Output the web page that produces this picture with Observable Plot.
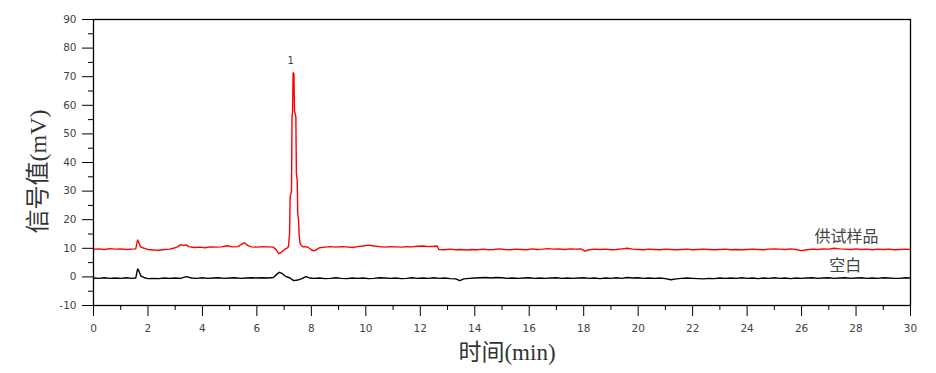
<!DOCTYPE html>
<html><head><meta charset="utf-8">
<script src="https://cdn.jsdelivr.net/npm/d3@7"></script>
<script src="https://cdn.jsdelivr.net/npm/@observablehq/plot@0.6"></script>
<style>html,body{margin:0;padding:0;background:#fff}</style>
</head><body><div id="chart"></div>
<script>
// 供试样品 (sample) trace
const sampleTime = [0,0.2,0.4,0.6,0.8,1.0,1.2,1.4,1.55,1.62,1.66,1.72,1.8,1.9,2.0,2.2,2.4,2.6,2.8,3.0,3.1,3.2,3.3,3.4,3.5,3.7,3.9,4.1,4.3,4.5,4.7,4.9,5.1,5.3,5.45,5.55,5.65,5.8,6.0,6.2,6.4,6.6,6.7,6.8,6.9,7.0,7.1,7.16,7.18,7.2,7.22,7.27,7.29,7.31,7.33,7.36,7.38,7.43,7.45,7.48,7.5,7.53,7.55,7.58,7.63,7.7,7.8,7.9,8.0,8.1,8.2,8.3,8.5,8.7,8.9,9.1,9.3,9.5,9.7,9.9,10.1,10.3,10.5,10.7,10.9,11.1,11.3,11.5,11.7,11.9,12.1,12.3,12.5,12.62,12.68,12.9,13.1,13.3,13.5,13.7,13.9,14.1,14.3,14.5,14.7,14.9,15.1,15.3,15.5,15.7,15.9,16.1,16.3,16.5,16.7,16.9,17.1,17.3,17.5,17.7,17.9,18.05,18.2,18.4,18.6,18.8,19.0,19.2,19.4,19.6,19.8,20.0,20.2,20.4,20.6,20.8,21.0,21.2,21.4,21.6,21.8,22.0,22.2,22.4,22.6,22.8,23.0,23.2,23.4,23.6,23.8,24.0,24.2,24.4,24.6,24.8,25.0,25.2,25.4,25.6,25.8,26.0,26.2,26.4,26.6,26.8,27.0,27.2,27.4,27.6,27.8,28.0,28.2,28.4,28.6,28.8,29.0,29.2,29.4,29.6,29.8,30.0];
const sampleSignal = [9.7,9.8,9.6,9.9,9.7,9.8,9.6,9.7,9.8,12.9,12.2,10.6,10.2,9.9,9.6,9.4,9.3,9.6,9.7,10.2,10.6,11.3,11.0,11.2,10.6,10.3,10.4,10.2,10.5,10.4,10.5,10.9,10.5,10.6,11.5,11.9,11.0,10.5,10.4,10.6,10.5,10.4,9.6,8.1,8.6,9.5,10.0,10.6,13,15,28,30,56,58,71.4,71,58,56,36,34,22,20,15,12,11.0,10.5,10.6,10.2,9.5,9.1,9.6,10.2,10.4,10.6,10.4,10.6,10.5,10.3,10.6,10.8,11.1,10.8,10.6,10.4,10.6,10.5,10.4,10.6,10.5,10.7,10.8,10.6,10.7,10.8,9.6,9.5,9.7,9.5,9.6,9.4,9.6,9.5,9.7,9.5,9.6,9.8,9.6,9.5,9.7,9.6,9.5,9.8,9.6,9.7,9.9,9.7,9.8,9.6,9.8,9.7,9.8,9.0,9.5,9.7,9.6,9.7,9.5,9.6,9.8,10.0,9.7,9.6,9.5,9.7,9.6,9.5,9.7,9.6,9.5,9.6,9.7,9.5,9.6,9.7,9.6,9.5,9.6,9.7,9.5,9.6,9.5,9.6,9.7,9.6,9.5,9.7,9.8,9.7,9.6,9.8,9.6,9.2,9.5,9.7,9.6,9.8,9.7,10.0,9.8,9.7,9.6,9.8,9.6,9.7,9.5,9.7,9.6,9.7,9.5,9.6,9.7,9.6];

// 空白 (blank) trace
const blankTime = [0,0.2,0.4,0.6,0.8,1.0,1.2,1.4,1.55,1.62,1.67,1.74,1.85,2.0,2.2,2.4,2.6,2.8,3.0,3.2,3.4,3.6,3.8,4.0,4.2,4.4,4.6,4.8,5.0,5.2,5.4,5.6,5.8,6.0,6.2,6.4,6.6,6.72,6.82,6.92,7.05,7.2,7.35,7.5,7.65,7.8,7.95,8.1,8.3,8.5,8.7,8.9,9.1,9.3,9.5,9.7,9.9,10.1,10.3,10.5,10.7,10.9,11.1,11.3,11.5,11.7,11.9,12.1,12.3,12.5,12.7,12.9,13.1,13.3,13.45,13.6,13.8,14.0,14.2,14.4,14.6,14.8,15.0,15.2,15.4,15.6,15.8,16.0,16.2,16.4,16.6,16.8,17.0,17.2,17.4,17.6,17.8,18.0,18.2,18.4,18.6,18.8,19.0,19.2,19.4,19.6,19.8,20.0,20.2,20.4,20.6,20.8,21.0,21.2,21.4,21.6,21.8,22.0,22.2,22.4,22.6,22.8,23.0,23.2,23.4,23.6,23.8,24.0,24.2,24.4,24.6,24.8,25.0,25.2,25.4,25.6,25.8,26.0,26.2,26.4,26.6,26.8,27.0,27.2,27.4,27.6,27.8,28.0,28.2,28.4,28.6,28.8,29.0,29.2,29.4,29.6,29.8,30.0];
const blankSignal = [-0.4,-0.5,-0.3,-0.5,-0.4,-0.5,-0.3,-0.5,-0.4,2.8,2.0,0.3,-0.2,-0.6,-0.5,-0.6,-0.4,-0.5,-0.4,-0.5,0.1,-0.4,-0.5,-0.3,-0.5,-0.4,-0.3,-0.5,-0.4,-0.3,-0.5,-0.4,-0.3,-0.4,-0.3,-0.4,-0.2,0.8,1.6,1.2,0.2,-0.3,-1.3,-1.1,-0.6,0.1,-0.4,-0.5,-0.4,-0.6,-0.5,-0.3,-0.5,-0.6,-0.4,-0.5,-0.4,-0.6,-0.5,-0.3,-0.4,-0.5,-0.4,-0.6,-0.5,-0.3,-0.5,-0.4,-0.5,-0.3,-0.5,-0.4,-0.6,-0.7,-1.3,-0.7,-0.5,-0.4,-0.3,-0.2,-0.4,-0.2,-0.3,-0.5,-0.4,-0.5,-0.4,-0.3,-0.5,-0.4,-0.5,-0.4,-0.3,-0.5,-0.4,-0.5,-0.4,-0.3,-0.5,-0.4,-0.6,-0.4,-0.5,-0.3,-0.5,-0.2,-0.4,-0.3,-0.5,-0.4,-0.5,-0.4,-0.6,-1.0,-0.7,-0.5,-0.4,-0.5,-0.6,-0.7,-0.5,-0.6,-0.4,-0.5,-0.4,-0.5,-0.3,-0.5,-0.4,-0.6,-0.4,-0.5,-0.3,-0.5,-0.4,-0.6,-0.4,-0.5,-0.4,-0.3,-0.5,-0.4,-0.3,-0.5,-0.4,-0.3,-0.5,-0.4,-0.3,-0.5,-0.4,-0.5,-0.3,-0.4,-0.5,-0.5,-0.3,-0.4];

// axis ticks
const xMajorTicks = [0,2,4,6,8,10,12,14,16,18,20,22,24,26,28,30];
const xMinorTicks = [1,3,5,7,9,11,13,15,17,19,21,23,25,27,29];
const yMajorTicks = [-10,0,10,20,30,40,50,60,70,80,90];
const yMinorTicks = [-5,5,15,25,35,45,55,65,75,85];

// labels
const xAxisLabel = "时间(min)";
const yAxisLabel = "信号值(mV)";
const seriesNames = ["供试样品", "空白"];
const seriesLabelTime = [27.65, 27.6];
const seriesLabelSignal = [14.1, 4.0];
const peakNames = ["1"];
const peakLabelTime = [7.24];
const peakLabelSignal = [75.7];

const tickFont = "'DejaVu Sans', Verdana, sans-serif";
const labelFont = "'Liberation Serif', 'Noto Sans CJK SC', serif";

const chart = Plot.plot({
  width: 936,
  height: 373,
  marginLeft: 93,
  marginRight: 26,
  marginTop: 19,
  marginBottom: 68,
  x: {domain: [0, 30]},
  y: {domain: [-10, 90]},
  style: {fontFamily: tickFont, fontSize: "10.5px", color: "#000", background: "#fff"},
  marks: [
    Plot.axisX({ticks: xMajorTicks, tickSize: 11, tickPadding: 8, tickFormat: d => String(d), label: null, fill: "#444", fontSize: 10.5}),
    Plot.axisX({ticks: xMinorTicks, tickSize: 5, tickFormat: () => "", label: null}),
    Plot.axisY({ticks: yMajorTicks, tickSize: 11, tickPadding: 6, tickFormat: d => String(d), label: null, fill: "#444", fontSize: 10.5}),
    Plot.axisY({ticks: yMinorTicks, tickSize: 5, tickFormat: () => "", label: null}),
    Plot.line(sampleSignal, {x: sampleTime, y: sampleSignal, stroke: "#ff0000", strokeWidth: 1.4}),
    Plot.line(blankSignal, {x: blankTime, y: blankSignal, stroke: "#000", strokeWidth: 1.4}),
    Plot.frame({stroke: "#000", strokeWidth: 1.3}),
    Plot.text(seriesNames, {x: seriesLabelTime, y: seriesLabelSignal, text: d => d, fontSize: 16, fill: "#444", fontFamily: "'Noto Sans CJK SC', sans-serif", letterSpacing: 3}),
    Plot.text(peakNames, {x: peakLabelTime, y: peakLabelSignal, text: d => d, fontSize: 10, fill: "#444"}),
    Plot.text([xAxisLabel], {frameAnchor: "bottom", textAnchor: "middle", lineAnchor: "middle", dx: 5, dy: 47, text: d => d, fontSize: 23, fill: "#333", fontFamily: labelFont}),
    Plot.text([yAxisLabel], {frameAnchor: "left", textAnchor: "middle", lineAnchor: "middle", dx: -55, dy: 9, rotate: -90, text: d => d, fontSize: 24, fill: "#333", fontFamily: labelFont})
  ]
});
document.getElementById("chart").appendChild(chart);
</script>
</body></html>
